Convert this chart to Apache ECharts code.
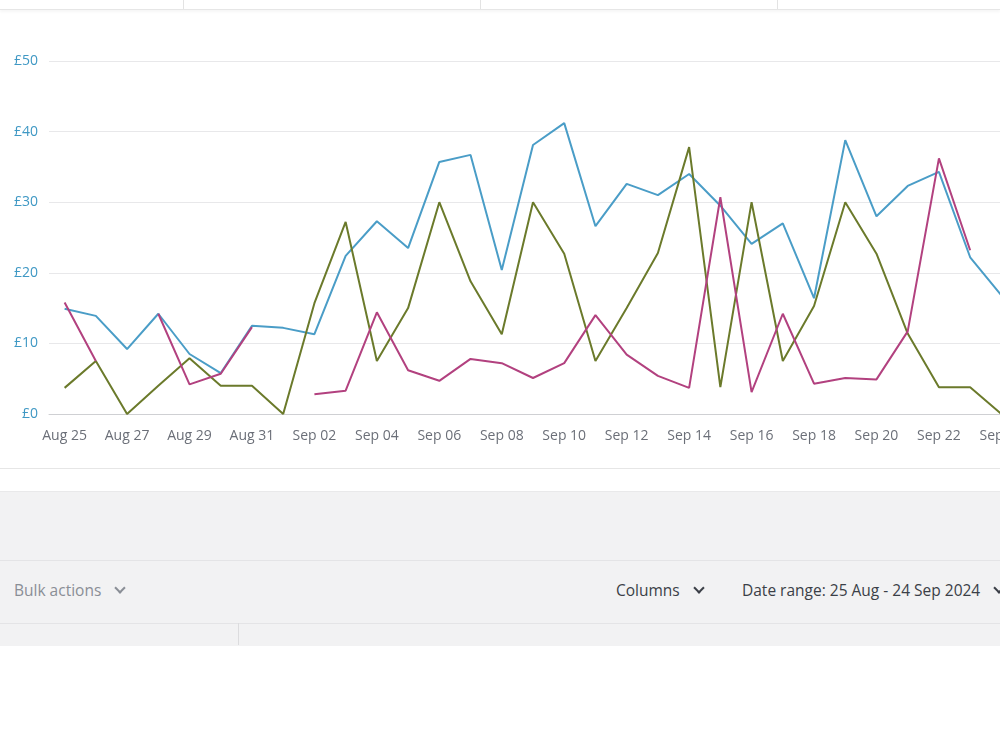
<!DOCTYPE html>
<html>
<head>
<meta charset="utf-8">
<script src="https://cdn.jsdelivr.net/npm/echarts@6/dist/echarts.min.js"></script>
<style>
  html, body { margin:0; padding:0; width:1000px; height:750px; overflow:hidden; background:#ffffff; font-family:"Open Sans","Noto Sans",sans-serif; }
  .abs { position:absolute; }
  #chart { position:absolute; left:0; top:0; width:1040px; height:470px; }
  .chev { display:inline-block; width:6px; height:6px; border-right:2px solid; border-bottom:2px solid; transform:rotate(45deg); margin-left:15px; position:relative; top:-4px; }
  .tb { font-size:15.5px; white-space:nowrap; }
</style>
</head>
<body>
<!-- top header strip -->
<div class="abs" style="left:0;top:0;width:1000px;height:9px;background:#fff;border-bottom:1px solid #e6e6e6;box-shadow:0 2px 3px rgba(0,0,0,0.04);"></div>
<div class="abs" style="left:183px;top:0;width:1px;height:9px;background:#e3e3e3;"></div>
<div class="abs" style="left:480px;top:0;width:1px;height:9px;background:#e3e3e3;"></div>
<div class="abs" style="left:777px;top:0;width:1px;height:9px;background:#e3e3e3;"></div>

<div id="chart"></div>

<!-- bottom section -->
<div class="abs" style="left:0;top:468px;width:1000px;height:1px;background:#e6e6e6;"></div>
<div class="abs" style="left:0;top:491px;width:1000px;height:154px;background:#f2f2f3;border-top:1px solid #e9e9ea;"></div>
<div class="abs" style="left:0;top:560px;width:1000px;height:1px;background:#e4e4e6;"></div>
<div class="abs" style="left:0;top:623px;width:1000px;height:1px;background:#e4e4e6;"></div>
<div class="abs" style="left:238px;top:623px;width:1px;height:22px;background:#dcdcde;"></div>
<div class="abs tb" style="left:14px;top:579px;color:#8a8e96;">Bulk actions<span class="chev" style="color:#8a8e96;"></span></div>
<div class="abs tb" style="left:616px;top:579px;color:#3b3f47;">Columns<span class="chev" style="color:#3b3f47;"></span></div>
<div class="abs tb" style="left:742px;top:579px;color:#3b3f47;">Date range: 25 Aug - 24 Sep 2024<span class="chev" style="color:#3b3f47;"></span></div>

<script>
const categories = ["Aug 25","Aug 26","Aug 27","Aug 28","Aug 29","Aug 30","Aug 31",
  "Sep 01","Sep 02","Sep 03","Sep 04","Sep 05","Sep 06","Sep 07","Sep 08","Sep 09","Sep 10",
  "Sep 11","Sep 12","Sep 13","Sep 14","Sep 15","Sep 16","Sep 17","Sep 18","Sep 19","Sep 20",
  "Sep 21","Sep 22","Sep 23","Sep 24"];

const blueSeries = [14.9,13.9,9.2,14.2,8.5,5.8,12.5,
  12.2,11.3,22.4,27.3,23.5,35.7,36.7,20.4,38.1,41.2,
  26.6,32.6,31.0,34.0,29.5,24.1,27.0,16.4,38.8,28.0,
  32.3,34.3,22.2,16.8];

const greenSeries = [3.7,7.5,0,4.0,7.9,4.0,4.0,
  0,15.7,27.2,7.5,15.0,30.0,18.8,11.3,30.0,22.7,
  7.5,15.0,22.8,37.8,3.8,30.0,7.5,15.3,30.0,22.7,
  11.4,3.8,3.8,0];

const magentaSeries = [15.8,7.5,null,14.2,4.2,5.7,12.3,
  null,2.8,3.3,14.4,6.2,4.7,7.8,7.2,5.1,7.2,
  14.0,8.4,5.4,3.7,30.7,3.1,14.2,4.3,5.1,4.9,
  11.7,36.2,23.2,null];

const yTicks = { min:0, max:50, interval:10 };

const chart = echarts.init(document.getElementById('chart'), null, {renderer:'canvas'});
function line(name, data, color) {
  return { name, type:'line', data, symbol:'none', connectNulls:false,
    lineStyle:{ color, width:2 }, itemStyle:{ color }, animation:false };
}
chart.setOption({
  animation:false,
  grid:{ left:49, right:23, top:61, bottom:56 },
  xAxis:{ type:'category', data:categories, boundaryGap:true,
    axisLine:{ show:true, lineStyle:{ color:'#cfd0d3', width:1 } },
    axisTick:{ show:false },
    axisLabel:{ interval:1, color:'#6b6f78', fontSize:14, margin:15, fontFamily:'Open Sans' } },
  yAxis:{ type:'value', min:yTicks.min, max:yTicks.max, interval:yTicks.interval,
    axisLine:{ show:false }, axisTick:{ show:false },
    splitLine:{ lineStyle:{ color:'#e8e8ea', width:1 } },
    axisLabel:{ color:'#3f98c4', fontSize:14, margin:11, fontFamily:'Open Sans',
      formatter: v => '£' + v } },
  series:[
    line('Blue', blueSeries, '#4a9dc7'),
    line('Green', greenSeries, '#6b7a2b'),
    line('Magenta', magentaSeries, '#b2417f')
  ]
});
</script>
</body>
</html>
